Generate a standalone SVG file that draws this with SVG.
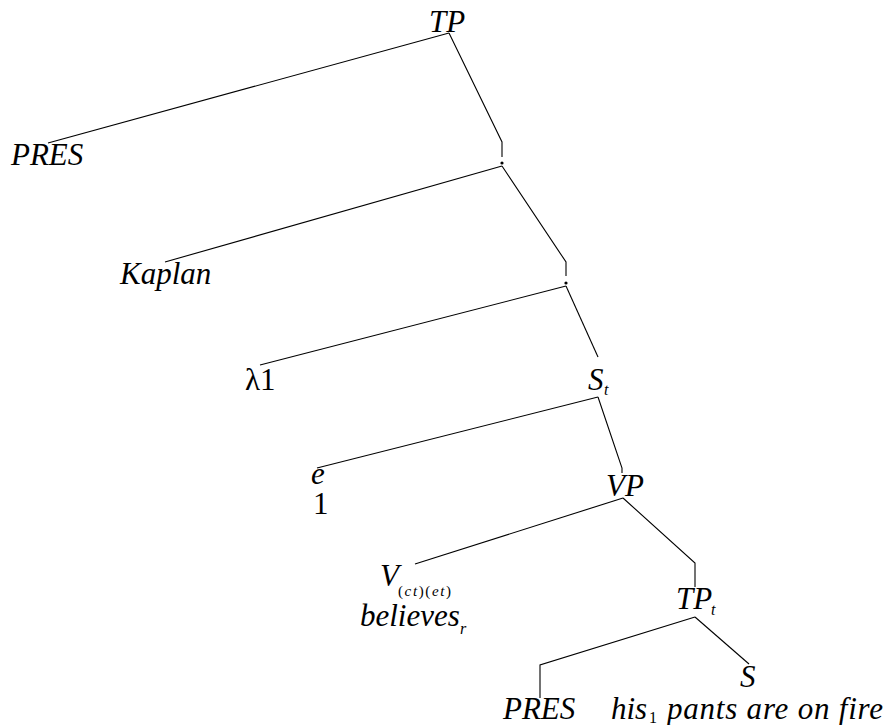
<svg xmlns="http://www.w3.org/2000/svg" width="889" height="725" viewBox="0 0 889 725">
<style>
.l{fill:none;stroke:#000;stroke-width:1.1}
.t{font-family:"Liberation Serif",serif;font-size:31px;fill:#000}
.i{font-style:italic}
.sub{font-size:16px}
.sub2{font-size:15px}
</style>
<rect width="889" height="725" fill="#fff"/>
<g id="connectors">
<polyline class="l" points="449,33 48,143"/>
<polyline class="l" points="449,33 502,142 502,157"/>
<circle cx="502" cy="163" r="1.6" fill="#000"/>
<polyline class="l" points="502,166 165,262"/>
<polyline class="l" points="502,166 566,262 566,276"/>
<circle cx="566" cy="283" r="1.6" fill="#000"/>
<polyline class="l" points="566,286 260,365"/>
<polyline class="l" points="566,286 598,357"/>
<polyline class="l" points="598,397 317,468"/>
<polyline class="l" points="598,397 622,468 622,473"/>
<polyline class="l" points="623,498 415,564"/>
<polyline class="l" points="623,498 695,563 695,587"/>
<polyline class="l" points="695,617 749,664"/>
<polyline class="l" points="695,617 540,665 540,698"/>
</g>
<g id="n-tp"><text class="t i" x="429" y="32">TP</text></g>
<g id="n-pres1"><text class="t i" x="11" y="165">PRES</text></g>
<g id="n-kaplan"><text class="t i" x="120" y="284">Kaplan</text></g>
<g id="n-lambda"><text class="t" x="245" y="390">λ1</text></g>
<g id="n-st"><text class="t i" x="588" y="390">S</text><text class="t i sub" x="604" y="395">t</text></g>
<g id="n-e"><text class="t i" x="311" y="484">e</text><text class="t" x="313" y="514">1</text></g>
<g id="n-vp"><text class="t i" x="606" y="496">VP</text></g>
<g id="n-v"><text class="t i" x="380" y="586">V</text><text class="t sub2" x="398" y="596" textLength="53">(<tspan font-style="italic">ct</tspan>)(<tspan font-style="italic">et</tspan>)</text><text class="t i" x="360" y="626">believes</text><text class="t i sub" x="460" y="634">r</text></g>
<g id="n-tpt"><text class="t i" x="676" y="609">TP</text><text class="t i sub" x="711" y="615">t</text></g>
<g id="n-s"><text class="t i" x="740" y="687">S</text><text class="t i" x="611" y="719">his</text><text class="t sub" x="649" y="723">1</text><text class="t i" x="667" y="719" textLength="216">pants are on fire</text></g>
<g id="n-pres2"><text class="t i" x="503" y="719">PRES</text></g>
</svg>
